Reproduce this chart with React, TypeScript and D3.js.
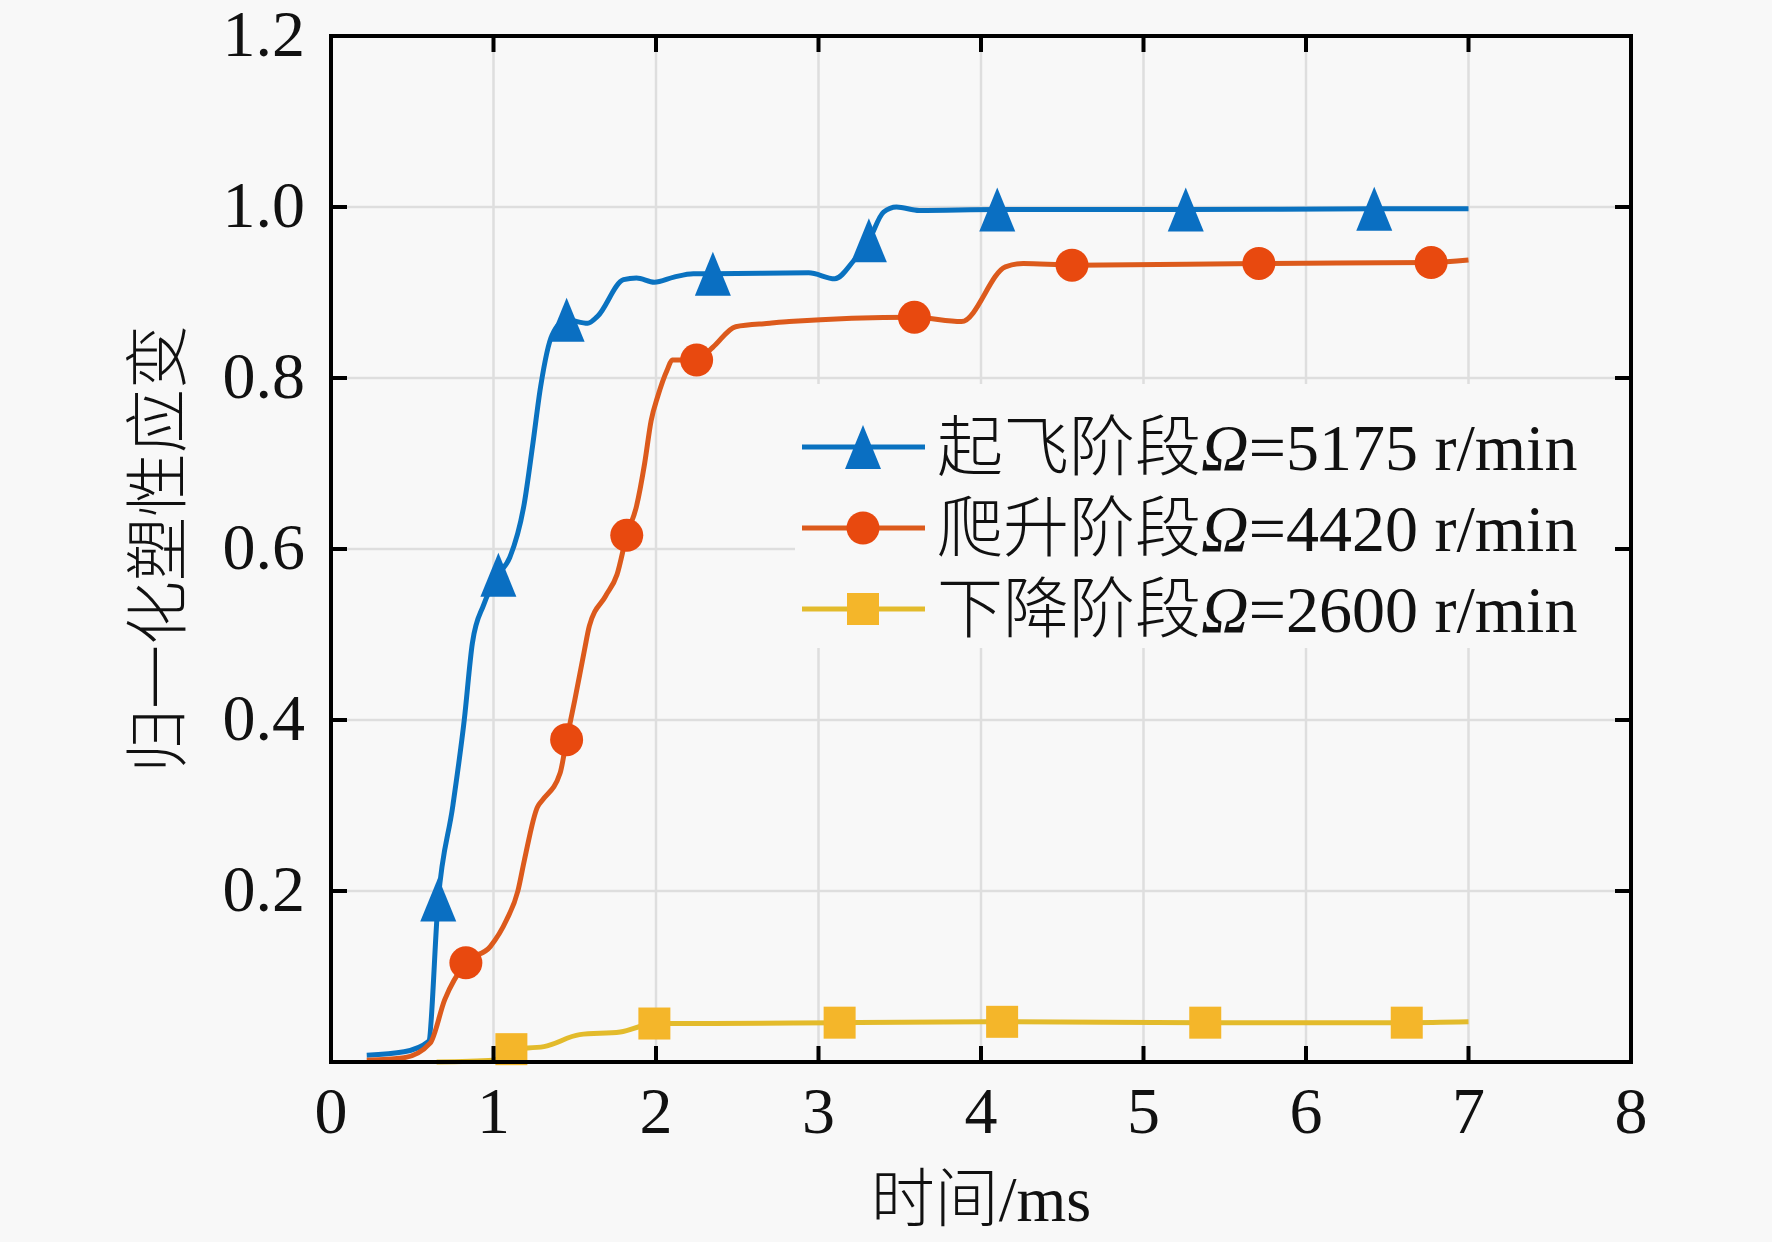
import { useEffect, useRef } from 'react'
import * as d3 from 'd3'

// series: [time (ms), normalized plastic strain]
const takeoffLine = [
	[0.22, 0.008], [0.45, 0.012], [0.6, 0.024], [0.66, 0.19], [0.75, 0.3], [0.82, 0.4],
	[0.87, 0.49], [0.94, 0.535], [1.03, 0.57], [1.1, 0.59], [1.19, 0.654], [1.24, 0.72],
	[1.29, 0.79], [1.36, 0.85], [1.45, 0.868], [1.58, 0.864], [1.64, 0.872], [1.8, 0.915],
	[1.88, 0.917], [1.99, 0.912], [2.11, 0.918], [2.23, 0.922], [2.35, 0.922], [2.94, 0.923],
	[3.1, 0.916], [3.22, 0.938], [3.31, 0.961], [3.4, 0.994], [3.48, 1.0], [3.62, 0.996],
	[4.1, 0.997], [5.26, 0.997], [6.42, 0.998], [7.0, 0.998],
]
const takeoffMarks = [
	[0.66, 0.19], [1.03, 0.57], [1.45, 0.868], [2.35, 0.922], [3.31, 0.961], [4.1, 0.997],
	[5.26, 0.997], [6.42, 0.998],
]

const climbLine = [
	[0.22, 0.002], [0.45, 0.005], [0.61, 0.022], [0.7, 0.073], [0.83, 0.116], [0.98, 0.135],
	[1.08, 0.166], [1.15, 0.2], [1.19, 0.236], [1.27, 0.298], [1.3, 0.306], [1.41, 0.338],
	[1.45, 0.377], [1.5, 0.423], [1.56, 0.482], [1.59, 0.51], [1.69, 0.545], [1.76, 0.57],
	[1.82, 0.616], [1.88, 0.65], [1.93, 0.7], [1.97, 0.75], [2.01, 0.778], [2.07, 0.81],
	[2.1, 0.821], [2.25, 0.821], [2.35, 0.836], [2.49, 0.86], [2.7, 0.864], [2.82, 0.866],
	[3.59, 0.871], [3.88, 0.866], [4.15, 0.93], [4.26, 0.934], [4.56, 0.932], [5.71, 0.934],
	[6.77, 0.935], [7.0, 0.938],
]
const climbMarks = [
	[0.83, 0.116], [1.45, 0.377], [1.82, 0.616], [2.25, 0.821], [3.59, 0.871], [4.56, 0.932],
	[5.71, 0.934], [6.77, 0.935],
]

const descentLine = [
	[0.65, 0.0], [1.0, 0.002], [1.11, 0.015], [1.31, 0.018], [1.53, 0.032], [1.78, 0.035],
	[1.99, 0.045], [2.35, 0.045], [3.13, 0.046], [4.13, 0.047], [5.38, 0.046], [6.62, 0.046],
	[7.0, 0.047],
]
const descentMarks = [
	[1.11, 0.015], [1.99, 0.045], [3.13, 0.046], [4.13, 0.047], [5.38, 0.046], [6.62, 0.046],
]

const xTicks = [0, 1, 2, 3, 4, 5, 6, 7, 8]
const yTicks = [0.2, 0.4, 0.6, 0.8, 1.0, 1.2]

const legendNames = ['起飞阶段', '爬升阶段', '下降阶段']
const legendSpeeds = ['=5175 r/min', '=4420 r/min', '=2600 r/min']

const serif = "'Liberation Serif', 'Times New Roman', serif"
const cjk = "'Noto Sans CJK SC', sans-serif"

const App = () => {
	const svgRef = useRef(null)

	useEffect(() => {
		const W = 1772
		const H = 1242
		const left = 331
		const right = 1631
		const top = 36
		const bottom = 1062

		const svg = d3.select(svgRef.current)
		svg.selectAll('*').remove()
		svg.attr('width', W).attr('height', H)

		svg.append('rect').attr('width', W).attr('height', H).attr('fill', '#f8f8f8')

		const x = d3.scaleLinear().domain([0, 8]).range([left, right])
		const y = d3.scaleLinear().domain([0, 1.2]).range([bottom, top])

		// grid
		const grid = svg.append('g').attr('stroke', '#dedede').attr('stroke-width', 2.5)
		grid
			.selectAll('.gx')
			.data(xTicks.slice(1, -1))
			.enter()
			.append('line')
			.attr('x1', (d) => x(d))
			.attr('x2', (d) => x(d))
			.attr('y1', top)
			.attr('y2', bottom)
		grid
			.selectAll('.gy')
			.data(yTicks.slice(0, -1))
			.enter()
			.append('line')
			.attr('x1', left)
			.attr('x2', right)
			.attr('y1', (d) => y(d))
			.attr('y2', (d) => y(d))

		// series
		const series = [
			{ line: takeoffLine, marks: takeoffMarks, stroke: '#0a72c0', fill: '#0a6fc2', shape: 'tri' },
			{ line: climbLine, marks: climbMarks, stroke: '#dc5a1c', fill: '#e8490f', shape: 'circ' },
			{ line: descentLine, marks: descentMarks, stroke: '#e3bb2c', fill: '#f4b62a', shape: 'sq' },
		]

		const lineGen = d3
			.line()
			.x((d) => x(d[0]))
			.y((d) => y(d[1]))
			.curve(d3.curveMonotoneX)

		const drawMarker = (g, shape, fill, cx, cy) => {
			if (shape === 'tri') {
				const w = 36
				const h = 44
				g.append('path')
					.attr('d', `M${cx},${cy - h / 2}L${cx + w / 2},${cy + h / 2}L${cx - w / 2},${cy + h / 2}Z`)
					.attr('fill', fill)
			} else if (shape === 'circ') {
				g.append('circle').attr('cx', cx).attr('cy', cy).attr('r', 16.5).attr('fill', fill)
			} else {
				g.append('rect')
					.attr('x', cx - 16)
					.attr('y', cy - 16)
					.attr('width', 32)
					.attr('height', 32)
					.attr('fill', fill)
			}
		}

		series.forEach((s) => {
			svg
				.append('path')
				.datum(s.line)
				.attr('d', lineGen)
				.attr('fill', 'none')
				.attr('stroke', s.stroke)
				.attr('stroke-width', 5)
			const g = svg.append('g')
			s.marks.forEach((m) => drawMarker(g, s.shape, s.fill, x(m[0]), y(m[1])))
		})

		// legend
		const lg = svg.append('g')
		lg.append('rect').attr('x', 795).attr('y', 384).attr('width', 828).attr('height', 264).attr('fill', '#f8f8f8')
		series.forEach((s, i) => {
			const cy = 447 + i * 81
			lg.append('line')
				.attr('x1', 802)
				.attr('x2', 925)
				.attr('y1', cy)
				.attr('y2', cy)
				.attr('stroke', s.stroke)
				.attr('stroke-width', 5)
			drawMarker(lg, s.shape, s.fill, 863, cy)
			const t = lg
				.append('text')
				.attr('x', 937)
				.attr('y', cy + 23)
				.attr('font-size', 66)
				.attr('fill', '#111')
			t.append('tspan').attr('font-family', cjk).attr('font-weight', 300).text(legendNames[i])
			t.append('tspan').attr('font-family', serif).attr('font-style', 'italic').text('Ω')
			t.append('tspan').attr('font-family', serif).text(legendSpeeds[i])
		})

		// frame
		svg
			.append('rect')
			.attr('x', left)
			.attr('y', top)
			.attr('width', right - left)
			.attr('height', bottom - top)
			.attr('fill', 'none')
			.attr('stroke', '#000')
			.attr('stroke-width', 4)

		// inward ticks on all sides
		const tk = svg.append('g').attr('stroke', '#000').attr('stroke-width', 4)
		xTicks.slice(1, -1).forEach((d) => {
			tk.append('line').attr('x1', x(d)).attr('x2', x(d)).attr('y1', bottom).attr('y2', bottom - 16)
			tk.append('line').attr('x1', x(d)).attr('x2', x(d)).attr('y1', top).attr('y2', top + 16)
		})
		yTicks.slice(0, -1).forEach((d) => {
			tk.append('line').attr('x1', left).attr('x2', left + 16).attr('y1', y(d)).attr('y2', y(d))
			tk.append('line').attr('x1', right).attr('x2', right - 16).attr('y1', y(d)).attr('y2', y(d))
		})

		// tick labels
		svg
			.append('g')
			.selectAll('text')
			.data(xTicks)
			.enter()
			.append('text')
			.attr('x', (d) => x(d))
			.attr('y', bottom + 71)
			.attr('text-anchor', 'middle')
			.attr('font-family', serif)
			.attr('font-size', 66)
			.attr('fill', '#111')
			.text((d) => d3.format('d')(d))

		svg
			.append('g')
			.selectAll('text')
			.data(yTicks)
			.enter()
			.append('text')
			.attr('x', 305)
			.attr('y', (d) => y(d) + 20)
			.attr('text-anchor', 'end')
			.attr('font-family', serif)
			.attr('font-size', 66)
			.attr('fill', '#111')
			.text((d) => d3.format('.1f')(d))

		// axis titles
		const xt = svg
			.append('text')
			.attr('x', (left + right) / 2)
			.attr('y', 1221)
			.attr('text-anchor', 'middle')
			.attr('font-size', 64)
			.attr('fill', '#111')
		xt.append('tspan').attr('font-family', cjk).attr('font-weight', 300).text('时间')
		xt.append('tspan').attr('font-family', serif).text('/ms')

		svg
			.append('text')
			.attr('transform', `translate(180,${(top + bottom) / 2}) rotate(-90)`)
			.attr('text-anchor', 'middle')
			.attr('font-family', cjk)
			.attr('font-weight', 300)
			.attr('font-size', 64)
			.attr('fill', '#111')
			.text('归一化塑性应变')
	}, [])

	return (
		<div style={{ position: 'absolute', left: 0, top: 0 }}>
			<svg ref={svgRef}></svg>
		</div>
	)
}

export default App
